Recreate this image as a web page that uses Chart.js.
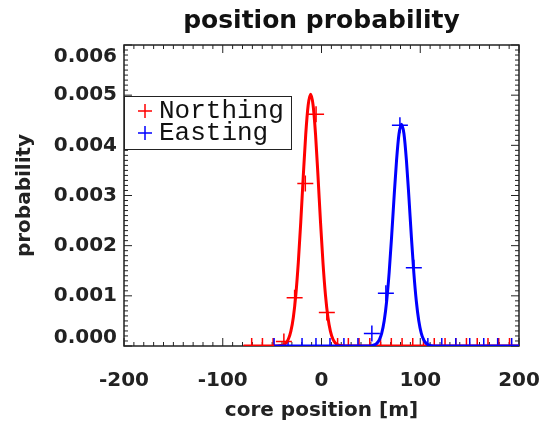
<!DOCTYPE html>
<html><head><meta charset="utf-8">
<script src="https://cdn.jsdelivr.net/npm/chart.js@4"></script>
<style>html,body{margin:0;padding:0;background:#fff}#wrap{width:544px;height:432px}</style>
</head><body><div id="wrap"><canvas id="c" width="544" height="432"></canvas></div>
<script>
const chartTitle = 'position probability';
const xAxisTitle = 'core position [m]';
const yAxisTitle = 'probability';
const seriesNames = ['Northing', 'Easting'];
const seriesColors = ['#ff0000', '#0000ff'];

const xTickValues = [-200, -100, 0, 100, 200];
const xTickLabels = ['-200', '-100', '0', '100', '200'];
const yTickValues = [0, 0.001, 0.002, 0.003, 0.004, 0.005, 0.006];
const yTickLabels = ['0.000', '0.001', '0.002', '0.003', '0.004', '0.005', '0.006'];

// measured points (crosses)
const northPointX = [-70.7, -59.8, -49.0, -38.1, -27.2, -16.4, -5.5, 5.4, 16.3, 27.2, 38.0, 48.9, 59.8, 70.7, 81.6, 92.4, 103.3, 114.2, 125.1, 136.0, 146.8, 157.7, 168.6, 179.5, 190.4];
const northPointY = [0, 0, 0, 0.00009, 0.00096, 0.00324, 0.00462, 0.00067, 0, 0, 0, 0, 0, 0, 0, 0, 0, 0, 0, 0, 0, 0, 0, 0, 0];
const eastPointX = [-48.0, -33.9, -19.7, -5.6, 8.6, 22.7, 36.9, 51.0, 65.2, 79.4, 93.5, 107.7, 121.8, 136.0, 150.1, 164.3, 178.4, 192.6];
const eastPointY = [0, 0, 0, 0, 0, 0, 0, 0.00025, 0.00105, 0.0044, 0.00156, 0, 0, 0, 0, 0, 0, 0];

// fitted curves
const northCurveX = [-79, -45, -41, -38.5, -36, -33.5, -31, -28.5, -26, -23.5, -21, -18.5, -16, -13.5, -11, -8.5, -6, -3.5, -1, 1.5, 4, 6.5, 9, 11.5, 14, 16.5, 19, 23, 200];
const northCurveY = [0, 0, 0.0000085, 0.0000235, 0.00006, 0.000139, 0.000295, 0.000573, 0.00102, 0.00166, 0.00247, 0.00337, 0.00421, 0.0048, 0.00502, 0.0048, 0.00421, 0.00337, 0.00247, 0.00166, 0.00102, 0.000573, 0.000295, 0.000139, 0.00006, 0.0000235, 0.0000085, 0, 0];
const eastCurveX = [-48, 46, 51, 53.5, 56, 58.5, 61, 63.5, 66, 68.5, 71, 73.5, 76, 78.5, 81, 83.5, 86, 88.5, 91, 93.5, 96, 98.5, 101, 103.5, 106, 108.5, 111, 116, 200];
const eastCurveY = [0, 0, 0.0000075, 0.0000208, 0.0000526, 0.000122, 0.000259, 0.000504, 0.000897, 0.00146, 0.00218, 0.00297, 0.0037, 0.00423, 0.00442, 0.00423, 0.0037, 0.00297, 0.00218, 0.00146, 0.000897, 0.000504, 0.000259, 0.000122, 0.0000526, 0.0000208, 0.0000075, 0, 0];

const xMin = -200, xMax = 200, yMin = 0, yMax = 0.006;
const xMajor = 100, xMinor = 10, yMajor = 0.001, yMinor = 0.0001;

const pts = (xs, ys) => xs.map((x, i) => ({x: x, y: ys[i]}));
const BOLD = '"DejaVu Sans", sans-serif';

const framePlugin = {
  id: 'frame',
  beforeDatasetsDraw(chart) {
    const {ctx, chartArea: a, scales: {x, y}} = chart;
    ctx.save();
    ctx.strokeStyle = '#222';
    ctx.lineWidth = 1;
    ctx.beginPath();
    const nx = Math.round((xMax - xMin) / xMinor);
    for (let i = 0; i <= nx; i++) {
      const v = xMin + i * xMinor;
      const px = x.getPixelForValue(v);
      const major = Math.abs(v / xMajor - Math.round(v / xMajor)) < 1e-6;
      const len = major ? 8 : 4;
      ctx.moveTo(px, a.bottom); ctx.lineTo(px, a.bottom - len);
      ctx.moveTo(px, a.top); ctx.lineTo(px, a.top + len);
    }
    const ny = Math.round((yMax - yMin) / yMinor);
    for (let i = 0; i <= ny; i++) {
      const v = yMin + i * yMinor;
      const py = y.getPixelForValue(v);
      const major = i % 10 === 0;
      const len = major ? 8 : 4;
      ctx.moveTo(a.left, py); ctx.lineTo(a.left + len, py);
      ctx.moveTo(a.right, py); ctx.lineTo(a.right - len, py);
    }
    ctx.stroke();
    ctx.lineWidth = 1.5;
    ctx.strokeRect(a.left, a.top, a.right - a.left, a.bottom - a.top);
    ctx.restore();
  },
  afterDraw(chart) {
    const {ctx, chartArea: a, scales: {y}} = chart;
    ctx.save();
    // title
    ctx.fillStyle = '#111';
    ctx.font = 'bold 25px ' + BOLD;
    ctx.textAlign = 'center';
    ctx.textBaseline = 'middle';
    ctx.fillText(chartTitle, (a.left + a.right) / 2, 21);
    // y tick labels
    ctx.font = 'bold 20px ' + BOLD;
    ctx.fillStyle = '#222';
    ctx.textAlign = 'right';
    yTickValues.forEach((v, i) => {
      let py = y.getPixelForValue(v);
      py = Math.min(Math.max(py, a.top + 12), a.bottom - 8);
      ctx.fillText(yTickLabels[i], a.left - 7, py);
    });
    // legend
    const bx = a.left, by = a.top + 51, bw = 167, bh = 53;
    ctx.fillStyle = '#fff';
    ctx.fillRect(bx, by, bw, bh);
    ctx.strokeStyle = '#222';
    ctx.lineWidth = 1;
    ctx.strokeRect(bx + 0.5, by + 0.5, bw, bh);
    ctx.font = '26px "Liberation Mono", monospace';
    ctx.textAlign = 'left';
    ctx.textBaseline = 'alphabetic';
    seriesNames.forEach((name, i) => {
      const cy = by + 15 + i * 22;
      const cx = bx + 21;
      ctx.strokeStyle = seriesColors[i];
      ctx.lineWidth = 1.5;
      ctx.beginPath();
      ctx.moveTo(cx - 7, cy); ctx.lineTo(cx + 7, cy);
      ctx.moveTo(cx, cy - 7); ctx.lineTo(cx, cy + 7);
      ctx.stroke();
      ctx.fillStyle = '#111';
      ctx.fillText(name, bx + 35, cy + 7);
    });
    ctx.restore();
  }
};

new Chart(document.getElementById('c'), {
  type: 'scatter',
  data: {
    datasets: [
      {type: 'line', label: seriesNames[1] + ' fit', data: pts(eastCurveX, eastCurveY), borderColor: seriesColors[1], borderWidth: 3, pointRadius: 0, cubicInterpolationMode: 'monotone', fill: false, order: 0},
      {type: 'line', label: seriesNames[0] + ' fit', data: pts(northCurveX, northCurveY), borderColor: seriesColors[0], borderWidth: 3, pointRadius: 0, cubicInterpolationMode: 'monotone', fill: false, order: 1},
      {label: seriesNames[1], data: pts(eastPointX, eastPointY), showLine: false, pointStyle: 'cross', pointRadius: 8, borderColor: seriesColors[1], backgroundColor: seriesColors[1], borderWidth: 1.5, clip: 0, order: 2},
      {label: seriesNames[0], data: pts(northPointX, northPointY), showLine: false, pointStyle: 'cross', pointRadius: 8, borderColor: seriesColors[0], backgroundColor: seriesColors[0], borderWidth: 1.5, clip: 0, order: 3}
    ]
  },
  options: {
    responsive: false,
    animation: false,
    devicePixelRatio: 1,
    events: [],
    layout: {padding: {left: 0, right: 25, top: 45, bottom: 0}},
    plugins: {legend: {display: false}, tooltip: {enabled: false}, title: {display: false}},
    scales: {
      x: {
        type: 'linear', min: xMin, max: xMax,
        afterBuildTicks: s => { s.ticks = xTickValues.map(v => ({value: v})); },
        afterFit: s => { s.height = 86; s.paddingLeft = 0; s.paddingRight = 0; },
        grid: {display: false, drawTicks: false, tickLength: 0},
        border: {display: false},
        ticks: {
          autoSkip: false, maxRotation: 0, padding: 23, color: '#222',
          font: {family: BOLD, size: 20, weight: 'bold'},
          callback: v => xTickLabels[xTickValues.indexOf(v)]
        },
        title: {display: true, text: xAxisTitle, color: '#222', font: {family: BOLD, size: 20, weight: 'bold'}, padding: {top: 0, bottom: 9}}
      },
      y: {
        type: 'linear', min: yMin, max: yMax,
        afterBuildTicks: s => { s.ticks = yTickValues.map(v => ({value: v})); },
        afterFit: s => { s.width = 124; s.paddingTop = 0; s.paddingBottom = 0; },
        grid: {display: false, drawTicks: false, tickLength: 0},
        border: {display: false},
        ticks: {display: false},
        title: {display: true, text: yAxisTitle, color: '#222', font: {family: BOLD, size: 20, weight: 'bold'}, padding: {top: 13, bottom: 0}}
      }
    }
  },
  plugins: [framePlugin]
});
</script>
</body></html>
